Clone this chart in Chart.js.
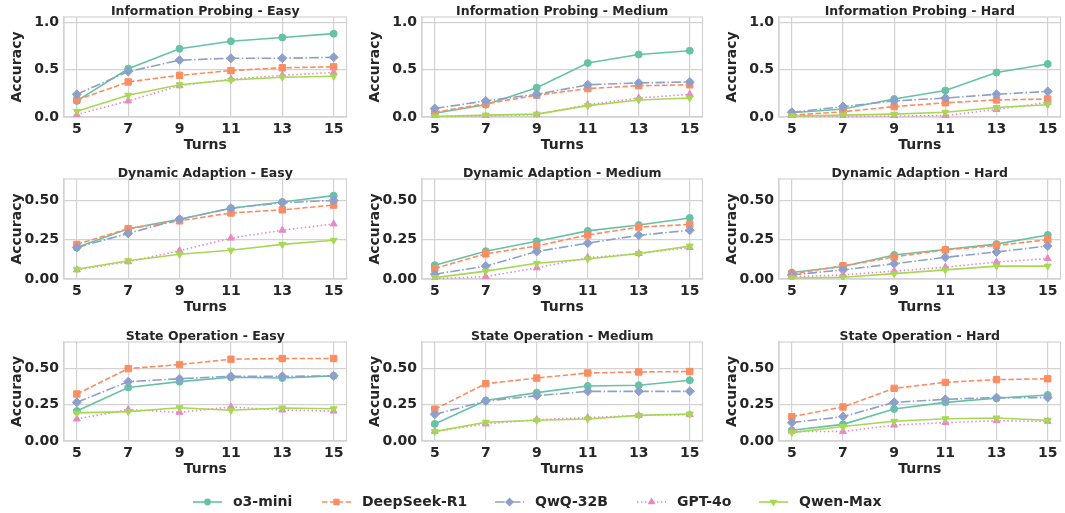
<!DOCTYPE html>
<html>
<head>
<meta charset="utf-8">
<script src="https://cdn.jsdelivr.net/npm/chart.js@4.4.0/dist/chart.umd.min.js"></script>
<style>
    html, body { margin: 0; padding: 0; background: #fff; overflow: hidden; width: 1065px; height: 513px; }
    canvas { position: absolute; }
</style>
</head>
<body>
<canvas id="legend" width="1065" height="24" style="left:0;top:490px"></canvas>
<script>
// ---- data ----
const turns = [5, 7, 9, 11, 13, 15];
const models = ['o3-mini', 'DeepSeek-R1', 'QwQ-32B', 'GPT-4o', 'Qwen-Max'];

const panelTitles = [
    'Information Probing - Easy', 'Information Probing - Medium', 'Information Probing - Hard',
    'Dynamic Adaption - Easy', 'Dynamic Adaption - Medium', 'Dynamic Adaption - Hard',
    'State Operation - Easy', 'State Operation - Medium', 'State Operation - Hard'
];

// rows: o3-mini, DeepSeek-R1, QwQ-32B, GPT-4o, Qwen-Max
const infoEasy = [
    [0.17, 0.51, 0.72, 0.80, 0.84, 0.88],
    [0.18, 0.37, 0.44, 0.49, 0.52, 0.53],
    [0.24, 0.48, 0.60, 0.62, 0.62, 0.63],
    [0.025, 0.17, 0.33, 0.40, 0.44, 0.47],
    [0.06, 0.23, 0.34, 0.39, 0.42, 0.43]
];
const infoMedium = [
    [0.04, 0.13, 0.31, 0.57, 0.66, 0.70],
    [0.05, 0.14, 0.23, 0.30, 0.33, 0.34],
    [0.09, 0.17, 0.24, 0.34, 0.36, 0.37],
    [0.005, 0.01, 0.025, 0.13, 0.20, 0.24],
    [0.005, 0.02, 0.03, 0.12, 0.18, 0.20]
];
const infoHard = [
    [0.045, 0.085, 0.19, 0.28, 0.47, 0.56],
    [0.02, 0.055, 0.11, 0.15, 0.18, 0.19],
    [0.05, 0.11, 0.17, 0.20, 0.24, 0.27],
    [0.005, 0.005, 0.01, 0.015, 0.08, 0.155],
    [0.01, 0.02, 0.03, 0.05, 0.10, 0.13]
];
const dynEasy = [
    [0.20, 0.32, 0.38, 0.45, 0.49, 0.53],
    [0.22, 0.32, 0.37, 0.42, 0.44, 0.47],
    [0.20, 0.29, 0.38, 0.45, 0.485, 0.50],
    [0.058, 0.11, 0.18, 0.26, 0.31, 0.35],
    [0.062, 0.116, 0.157, 0.183, 0.22, 0.246]
];
const dynMedium = [
    [0.088, 0.177, 0.24, 0.306, 0.343, 0.388],
    [0.067, 0.16, 0.21, 0.28, 0.33, 0.347],
    [0.03, 0.082, 0.175, 0.228, 0.278, 0.31],
    [0.002, 0.015, 0.071, 0.136, 0.162, 0.20],
    [0.009, 0.05, 0.10, 0.127, 0.162, 0.209]
];
const dynHard = [
    [0.041, 0.08, 0.153, 0.188, 0.222, 0.28],
    [0.032, 0.084, 0.14, 0.185, 0.213, 0.25],
    [0.026, 0.058, 0.097, 0.138, 0.172, 0.21],
    [0.015, 0.026, 0.05, 0.075, 0.108, 0.13],
    [0.006, 0.011, 0.034, 0.058, 0.082, 0.082]
];
const stateEasy = [
    [0.207, 0.37, 0.41, 0.44, 0.435, 0.45],
    [0.325, 0.50, 0.528, 0.565, 0.57, 0.57],
    [0.267, 0.41, 0.43, 0.447, 0.447, 0.45],
    [0.152, 0.217, 0.198, 0.235, 0.214, 0.207],
    [0.194, 0.203, 0.23, 0.212, 0.228, 0.223]
];
const stateMedium = [
    [0.118, 0.28, 0.334, 0.38, 0.385, 0.42],
    [0.22, 0.396, 0.435, 0.47, 0.477, 0.48],
    [0.184, 0.276, 0.313, 0.343, 0.343, 0.343],
    [0.067, 0.118, 0.147, 0.161, 0.177, 0.182],
    [0.065, 0.13, 0.143, 0.152, 0.177, 0.187]
];
const stateHard = [
    [0.074, 0.115, 0.221, 0.267, 0.295, 0.318],
    [0.168, 0.235, 0.364, 0.405, 0.424, 0.43],
    [0.127, 0.168, 0.267, 0.288, 0.30, 0.30],
    [0.067, 0.065, 0.11, 0.127, 0.14, 0.136],
    [0.058, 0.10, 0.136, 0.154, 0.159, 0.143]
];
const panelData = [infoEasy, infoMedium, infoHard, dynEasy, dynMedium, dynHard, stateEasy, stateMedium, stateHard];

// y range shared per row
const rowMax = [1.056, 0.636, 0.684];
const rowTicks = [[0, 0.5, 1.0], [0, 0.25, 0.5], [0, 0.25, 0.5]];
const rowDecimals = [1, 2, 2];

// ---- styles ----
const colors = ['#66c2a5', '#fc8d62', '#8da0cb', '#e78ac3', '#a6d854'];
const dashes = [[], [5.5, 2.4], [9.6, 2.4, 1.5, 2.4], [1.5, 2.5], []];
const pointStyles = ['circle', 'rect', 'rectRot', 'triangle', 'triangle'];
const pointRotations = [0, 0, 0, 0, 180];
const pointSizes = [3.5, 4.5, 4.5, 4, 4];

const textColor = '#262626';
const gridColor = '#d3d3d3';
const fontFamily = "'DejaVu Sans', sans-serif";

const plotLeft = [64, 422, 779];
const plotWidth = [288, 286, 287];
const plotTop = [17, 179, 342];
const plotHeight = [100, 100, 99];
const yAxisW = 64, titleH = 17, xAxisH = 37;

// frame (all four spines) + panel title centred over the axes
const framePlugin = {
    id: 'frame',
    beforeDatasetsDraw(chart) {
        const { ctx, chartArea: a } = chart;
        ctx.save();
        ctx.strokeStyle = gridColor;
        ctx.lineWidth = 1.2;
        ctx.strokeRect(a.left, a.top, a.right - a.left, a.bottom - a.top);
        ctx.restore();
    },
    afterDraw(chart, args, opts) {
        const { ctx, chartArea: a } = chart;
        ctx.save();
        ctx.fillStyle = textColor;
        ctx.font = "bold 12.5px " + fontFamily;
        ctx.textAlign = 'center';
        ctx.textBaseline = 'alphabetic';
        ctx.fillText(opts.text, (a.left + a.right) / 2, a.top - 2.5);
        ctx.restore();
    }
};

panelData.forEach((series, idx) => {
    const row = Math.floor(idx / 3), col = idx % 3;
    const canvas = document.createElement('canvas');
    const w = yAxisW + plotWidth[col];
    const h = titleH + plotHeight[row] + xAxisH;
    canvas.width = w;
    canvas.height = h;
    canvas.style.left = (plotLeft[col] - yAxisW) + 'px';
    canvas.style.top = (plotTop[row] - titleH) + 'px';
    document.body.appendChild(canvas);

    const tickFont = { family: fontFamily, size: 14, weight: 'bold' };

    new Chart(canvas.getContext('2d'), {
        type: 'line',
        data: {
            datasets: series.map((vals, i) => ({
                label: models[i],
                data: vals.map((v, k) => ({ x: turns[k], y: v })),
                borderColor: colors[i],
                backgroundColor: colors[i],
                borderWidth: 1.6,
                borderDash: dashes[i],
                pointStyle: pointStyles[i],
                pointRotation: pointRotations[i],
                pointRadius: pointSizes[i],
                pointBackgroundColor: colors[i],
                pointBorderColor: colors[i],
                pointBorderWidth: 1,
                tension: 0,
                fill: false,
                clip: 1,
                order: 5 - i
            }))
        },
        options: {
            responsive: false,
            animation: false,
            devicePixelRatio: 1,
            layout: { padding: { top: titleH, left: 0, right: 0, bottom: 0 } },
            plugins: {
                legend: { display: false },
                tooltip: { enabled: false },
                frame: { text: panelTitles[idx] }
            },
            scales: {
                x: {
                    type: 'linear',
                    min: 4.5,
                    max: 15.5,
                    afterBuildTicks: s => { s.ticks = turns.map(v => ({ value: v })); },
                    afterFit: s => { s.height = xAxisH; },
                    ticks: { color: textColor, font: tickFont, padding: 4, maxRotation: 0, autoSkip: false },
                    grid: { color: gridColor, lineWidth: 1.2, drawTicks: false },
                    border: { color: gridColor, width: 1.2 },
                    title: { display: true, text: 'Turns', color: textColor, font: tickFont, padding: 0 }
                },
                y: {
                    min: 0,
                    max: rowMax[row],
                    afterBuildTicks: s => { s.ticks = rowTicks[row].map(v => ({ value: v })); },
                    afterFit: s => { s.width = yAxisW; },
                    ticks: {
                        color: textColor, font: tickFont, padding: 5,
                        callback: v => Number(v).toFixed(rowDecimals[row])
                    },
                    grid: { color: gridColor, lineWidth: 1.2, drawTicks: false },
                    border: { color: gridColor, width: 1.2 },
                    title: { display: true, text: 'Accuracy', color: textColor, font: tickFont, padding: { top: 9, bottom: 0 } }
                }
            }
        },
        plugins: [framePlugin]
    });
});

// ---- legend ----
const legendX = [193, 322, 495, 637, 759];
const lctx = document.getElementById('legend').getContext('2d');
const ly = 12;
models.forEach((name, i) => {
    const x0 = legendX[i];
    lctx.save();
    lctx.strokeStyle = colors[i];
    lctx.fillStyle = colors[i];
    lctx.lineWidth = 1.6;
    lctx.setLineDash(dashes[i]);
    lctx.beginPath();
    lctx.moveTo(x0, ly);
    lctx.lineTo(x0 + 29, ly);
    lctx.stroke();
    lctx.setLineDash([]);
    if (Chart.helpers && Chart.helpers.drawPoint) {
        Chart.helpers.drawPoint(lctx, {
            pointStyle: pointStyles[i], rotation: pointRotations[i],
            radius: pointSizes[i] * 0.75, borderWidth: 1
        }, x0 + 14.5, ly);
    }
    lctx.restore();
    lctx.fillStyle = textColor;
    lctx.font = "bold 14px " + fontFamily;
    lctx.textBaseline = 'middle';
    lctx.fillText(name, x0 + 40, ly);
});
</script>
</body>
</html>
